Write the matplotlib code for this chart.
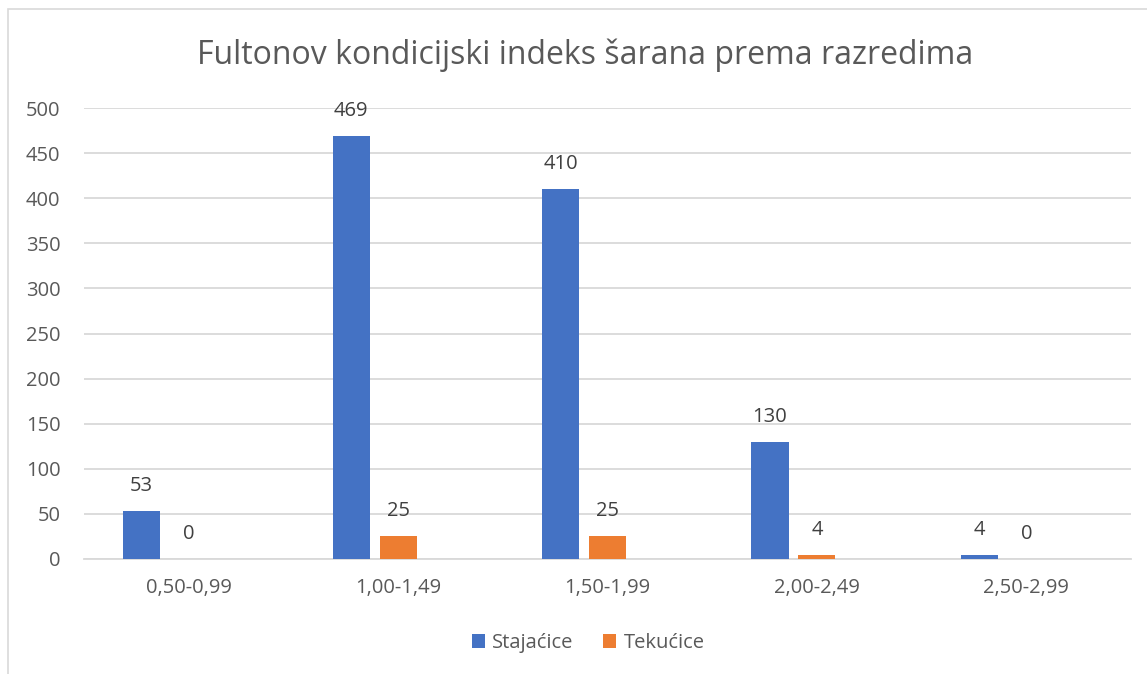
import matplotlib

matplotlib.use("Agg")
import matplotlib.pyplot as plt
import numpy as np
from matplotlib.patches import Rectangle

plt.rcParams["font.family"] = ["Open Sans", "DejaVu Sans"]

categories = ["0,50-0,99", "1,00-1,49", "1,50-1,99", "2,00-2,49", "2,50-2,99"]
stajacice = [53, 469, 410, 130, 4]
tekucice = [0, 25, 25, 4, 0]
series_names = ["Stajaćice", "Tekućice"]

BLUE = "#4472c4"
ORANGE = "#ed7d31"
GREY_TXT = "#595959"
LABEL_TXT = "#404040"
GRID = "#d9d9d9"

fig = plt.figure(figsize=(11.47, 6.74), dpi=100)
ax = fig.add_axes([84 / 1147, 1 - 559 / 674, (1131 - 84) / 1147, (559 - 108) / 674])

# chart border (Excel style)
fig.patches.append(Rectangle((8 / 1147, -0.1), 1.2, 1 - 9 / 674 + 0.1,
                             transform=fig.transFigure, fill=False,
                             edgecolor=GRID, linewidth=1.2))

x = np.arange(len(categories))
width = 0.177
offset = 0.224
b1 = ax.bar(x - offset, stajacice, width, color=BLUE, label=series_names[0], zorder=3)
b2 = ax.bar(x, tekucice, width, color=ORANGE, label=series_names[1], zorder=3)

for bars, vals in [(b1, stajacice), (b2, tekucice)]:
    for rect, v in zip(bars, vals):
        ax.annotate(f"{v}", (rect.get_x() + rect.get_width() / 2, v),
                    xytext=(0, 18), textcoords="offset points",
                    ha="center", va="center", fontsize=14.5, color=LABEL_TXT)

ax.set_xlim(-0.5, len(categories) - 0.5)
ax.set_ylim(0, 500)
ax.set_yticks(range(0, 501, 50))
ax.set_xticks(x)
ax.set_xticklabels(categories)
ax.tick_params(axis="both", length=0, labelsize=14.5, labelcolor=GREY_TXT)
ax.tick_params(axis="y", pad=17)
ax.tick_params(axis="x", pad=14)
ax.yaxis.grid(True, color=GRID, linewidth=1.3, zorder=0)
ax.set_axisbelow(True)
for s in ["top", "right", "left"]:
    ax.spines[s].set_visible(False)
ax.spines["bottom"].set_color(GRID)
ax.spines["bottom"].set_linewidth(1.3)

fig.text(585 / 1147, 1 - 55 / 674, "Fultonov kondicijski indeks šarana prema razredima",
         ha="center", va="center", fontsize=23, color=GREY_TXT)

fig.legend(loc="center", bbox_to_anchor=(588 / 1147, 1 - 643 / 674), ncol=2,
           frameon=False, fontsize=14.5, labelcolor=GREY_TXT, handlelength=0.65,
           handleheight=0.65, handletextpad=0.35, columnspacing=1.5)

fig.savefig("out.png", dpi=100)
